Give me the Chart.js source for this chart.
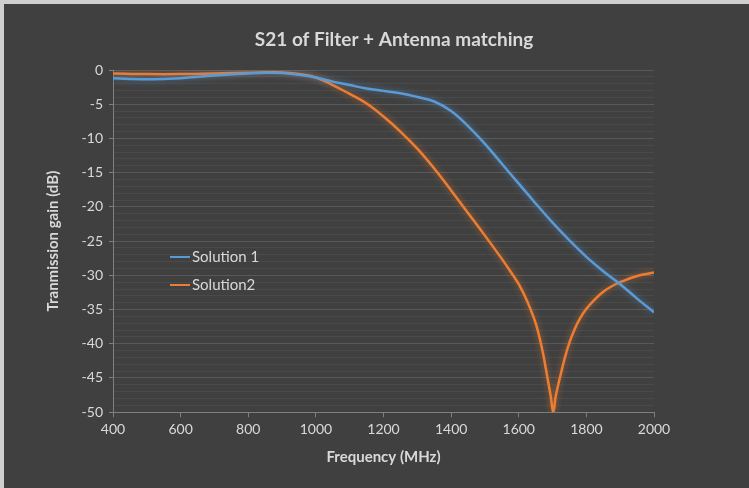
<!DOCTYPE html>
<html lang="en">
<head>
    <meta charset="UTF-8">
    <title>S21 of Filter + Antenna matching</title>
    <script src="https://cdn.jsdelivr.net/npm/chart.js"></script>
    <style>
        body, html {
            margin: 0;
            padding: 0;
            background: #cfcfcf;
            overflow: hidden;
        }
        .chart-box {
            position: absolute;
            left: 4px;
            top: 4px;
            width: 745px;
            height: 484px;
            background: #404040;
        }
    </style>
</head>
<body>
    <div class="chart-box">
        <canvas id="s21Chart" width="745" height="484"></canvas>
    </div>

    <script>
    // values
    const seriesNames = ['Solution 1', 'Solution2'];
    const seriesColors = ['#5b9bd5', '#ed7d31'];

    const freqSol1 = [400, 450, 500, 550, 600, 700, 800, 850, 900, 950, 1000, 1050, 1100, 1150, 1200, 1250, 1300, 1350, 1400, 1450, 1500, 1550, 1600, 1650, 1700, 1750, 1800, 1850, 1900, 1950, 2000];
    const gainSol1 = [-1.2, -1.3, -1.35, -1.3, -1.2, -0.8, -0.5, -0.4, -0.45, -0.7, -1.1, -1.7, -2.2, -2.7, -3.05, -3.4, -3.95, -4.6, -6.0, -8.2, -10.8, -13.7, -16.6, -19.5, -22.3, -24.9, -27.3, -29.4, -31.3, -33.4, -35.4];

    const freqSol2 = [400, 500, 600, 700, 800, 900, 950, 1000, 1050, 1100, 1150, 1200, 1250, 1300, 1350, 1400, 1450, 1500, 1550, 1575, 1600, 1625, 1650, 1670, 1685, 1695, 1702, 1710, 1725, 1735, 1750, 1765, 1780, 1800, 1825, 1850, 1875, 1900, 1950, 2000];
    const gainSol2 = [-0.5, -0.6, -0.6, -0.5, -0.4, -0.35, -0.6, -1.1, -2.2, -3.5, -4.9, -6.8, -9.0, -11.5, -14.4, -17.6, -20.9, -24.2, -27.6, -29.4, -31.3, -33.8, -37.0, -41.0, -45.0, -47.8, -50.0, -47.5, -44.3, -42.3, -39.8, -37.9, -36.4, -34.9, -33.5, -32.4, -31.6, -31.0, -30.1, -29.6];

    const xTitle = 'Frequency (MHz)';
    const yTitle = 'Tranmission gain (dB)';
    const chartTitle = 'S21 of Filter + Antenna matching';

    const FONT = 'Lato, "Open Sans", sans-serif';
    const TEXT = '#d9d9d9';

    function toPoints(xs, ys) {
        return xs.map((x, i) => ({ x: x, y: ys[i] }));
    }

    // soft glow like the office line effect
    const glowPlugin = {
        id: 'glow',
        beforeDatasetDraw(chart, args) {
            const ctx = chart.ctx;
            ctx.save();
            ctx.shadowColor = seriesColors[args.index] + '99';
            ctx.shadowBlur = 6;
        },
        afterDatasetDraw(chart) {
            chart.ctx.restore();
        }
    };

    // title drawn by hand so it sits where the original has it
    const titlePlugin = {
        id: 'ownTitle',
        afterDraw(chart) {
            const ctx = chart.ctx;
            ctx.save();
            ctx.font = 'bold 19px ' + FONT;
            ctx.fillStyle = TEXT;
            ctx.textAlign = 'center';
            ctx.textBaseline = 'middle';
            ctx.fillText(chartTitle, 390, 36);
            ctx.restore();
        }
    };

    // legend sitting inside the plot, left side
    const innerLegend = {
        id: 'innerLegend',
        afterDraw(chart) {
            const ctx = chart.ctx;
            const a = chart.chartArea;
            const x0 = a.left + 57;
            const y0 = a.top + 187;
            ctx.save();
            ctx.font = '15px ' + FONT;
            ctx.textBaseline = 'middle';
            chart.data.datasets.forEach((ds, i) => {
                const y = y0 + i * 28;
                ctx.strokeStyle = ds.borderColor;
                ctx.lineWidth = 2;
                ctx.beginPath();
                ctx.moveTo(x0, y);
                ctx.lineTo(x0 + 20, y);
                ctx.stroke();
                ctx.fillStyle = TEXT;
                ctx.fillText(ds.label, x0 + 22, y);
            });
            ctx.restore();
        }
    };

    const ctx = document.getElementById('s21Chart').getContext('2d');
    new Chart(ctx, {
        type: 'line',
        data: {
            datasets: [
                {
                    label: seriesNames[0],
                    data: toPoints(freqSol1, gainSol1),
                    borderColor: seriesColors[0],
                    borderWidth: 2.5,
                    pointRadius: 0,
                    tension: 0.4
                },
                {
                    label: seriesNames[1],
                    data: toPoints(freqSol2, gainSol2),
                    borderColor: seriesColors[1],
                    borderWidth: 2.5,
                    pointRadius: 0,
                    tension: 0.4
                }
            ]
        },
        options: {
            responsive: false,
            animation: false,
            layout: { padding: { left: 36, right: 95, top: 66, bottom: 18 } },
            plugins: {
                legend: { display: false },
                tooltip: { enabled: false },
                title: { display: false }
            },
            scales: {
                x: {
                    type: 'linear',
                    min: 400,
                    max: 2000,
                    ticks: {
                        stepSize: 200,
                        color: TEXT,
                        font: { family: FONT, size: 14 },
                        padding: 4,
                        callback: v => String(v)
                    },
                    grid: { drawOnChartArea: false, color: '#7f7f7f', tickLength: 5 },
                    border: { color: '#7f7f7f' },
                    title: {
                        display: true,
                        text: xTitle,
                        color: TEXT,
                        font: { family: FONT, size: 15, weight: 'bold' },
                        padding: { top: 6 }
                    }
                },
                y: {
                    min: -50,
                    max: 0,
                    afterFit(scale) { scale.width = 73; },
                    ticks: {
                        stepSize: 1,
                        autoSkip: false,
                        color: TEXT,
                        font: { family: FONT, size: 14 },
                        padding: 6,
                        callback: v => (v % 5 === 0 ? v : '')
                    },
                    grid: {
                        color: c => (c.tick && c.tick.value % 5 === 0 ? '#595959' : '#4a4a4a'),
                        tickColor: c => (c.tick && c.tick.value % 5 === 0 ? '#7f7f7f' : 'rgba(0,0,0,0)'),
                        tickLength: 4
                    },
                    border: { color: '#7f7f7f' },
                    title: {
                        display: true,
                        text: yTitle,
                        color: TEXT,
                        font: { family: FONT, size: 15, weight: 'bold' }
                    }
                }
            }
        },
        plugins: [glowPlugin, titlePlugin, innerLegend]
    });
    </script>
</body>
</html>
